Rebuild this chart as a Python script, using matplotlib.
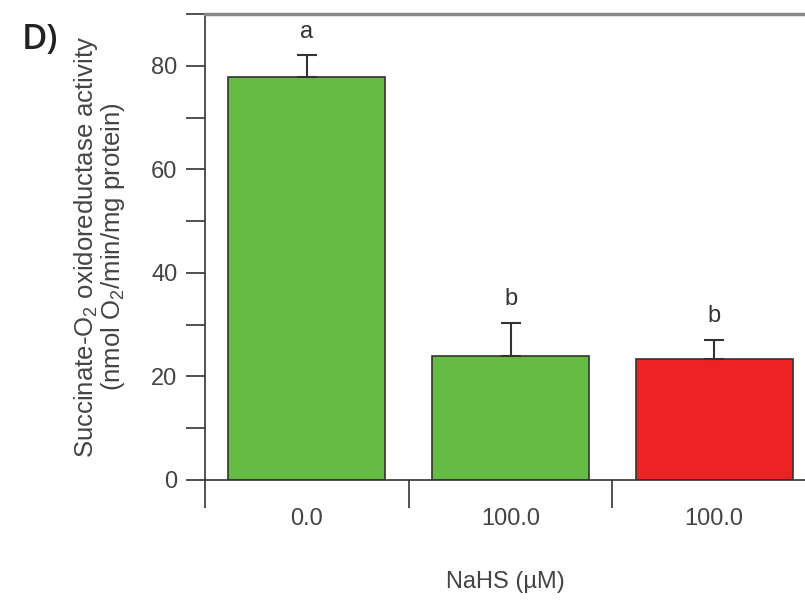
import matplotlib
matplotlib.use("Agg")
import matplotlib.pyplot as plt
from matplotlib.ticker import FixedLocator

# data
categories = ["0.0", "100.0", "100.0"]
activity = [77.8, 24.0, 23.3]
errors = [4.2, 6.3, 3.7]
letters = ["a", "b", "b"]
bar_colors = ["#66bb44", "#66bb44", "#ee2222"]

plt.rcParams["font.family"] = ["Liberation Sans", "DejaVu Sans"]
plt.rcParams["mathtext.default"] = "regular"

fig = plt.figure(figsize=(8.05, 6.02), dpi=100)
ax = fig.add_axes([0.2547, 0.2027, 0.7453, 0.774])

x = list(range(len(categories)))
ax.bar(x, activity, width=0.77, color=bar_colors, edgecolor="#333333", linewidth=1.2, zorder=2)
ax.errorbar(x, activity, yerr=[[0] * len(errors), errors], fmt="none",
            ecolor="#333333", elinewidth=1.5, capsize=7, capthick=1.5, zorder=3)
for xi, v, e, t in zip(x, activity, errors, letters):
    ax.text(xi, v + e + 2.5, t, ha="center", va="bottom", fontsize=17, color="#333333")

ax.set_xlim(-0.5, 2.446)
ax.set_ylim(0, 90)

# category labels centered, boundary ticks below
ax.set_xticks(x)
ax.set_xticklabels(categories, fontsize=17, color="#444444")
ax.tick_params(axis="x", which="major", length=0, pad=20)
ax.xaxis.set_minor_locator(FixedLocator([-0.5, 0.5, 1.5]))
ax.tick_params(axis="x", which="minor", length=20, width=1.2, color="#333333", direction="out")

ax.set_yticks([0, 20, 40, 60, 80])
ax.tick_params(axis="y", which="major", labelsize=17, labelcolor="#444444",
               length=14, width=1.2, color="#333333", pad=6)
ax.yaxis.set_minor_locator(FixedLocator([10, 30, 50, 70, 90]))
ax.tick_params(axis="y", which="minor", length=14, width=1.2, color="#333333")

ax.spines["right"].set_visible(False)
ax.spines["top"].set_color("#888888")
ax.spines["top"].set_linewidth(2.5)
ax.spines["left"].set_color("#333333")
ax.spines["left"].set_linewidth(1.2)
ax.spines["bottom"].set_color("#333333")
ax.spines["bottom"].set_linewidth(1.2)

ax.set_xlabel("NaHS (\u00b5M)", fontsize=17, color="#444444", labelpad=30)
fig.text(0.124, 0.59, "Succinate-O$_2$ oxidoreductase activity\n(nmol O$_2$/min/mg protein)",
         rotation=90, ha="center", va="center", fontsize=18.5, color="#444444", linespacing=0.95)

fig.text(0.027, 0.934, "D)", fontsize=25, fontweight="semibold", color="#222222",
         va="center", family=["Open Sans", "DejaVu Sans"])

fig.savefig("out.png", dpi=100)
